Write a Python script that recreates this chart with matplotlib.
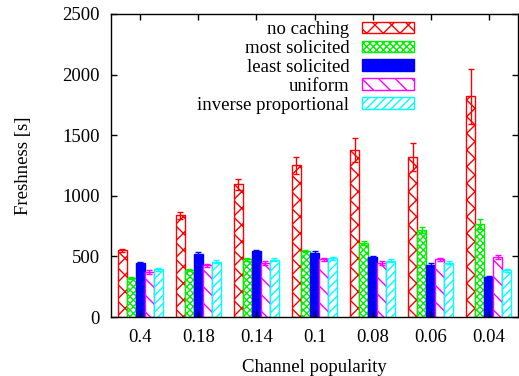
import matplotlib

matplotlib.use("Agg")

import matplotlib.pyplot as plt
import numpy as np

categories = ["0.4", "0.18", "0.14", "0.1", "0.08", "0.06", "0.04"]
series_names = ["no caching", "most solicited", "least solicited", "uniform", "inverse proportional"]

no_caching = [550, 840, 1095, 1252, 1381, 1322, 1820]
no_caching_err = [10, 28, 45, 70, 100, 115, 230]
most_solicited = [322, 391, 476, 545, 611, 715, 770]
most_solicited_err = [6, 8, 10, 10, 20, 25, 40]
least_solicited = [446, 523, 542, 531, 495, 432, 330]
least_solicited_err = [10, 10, 12, 10, 10, 10, 10]
uniform = [371, 427, 446, 476, 446, 476, 497]
uniform_err = [14, 14, 14, 14, 14, 14, 18]
inverse_prop = [394, 457, 473, 486, 465, 449, 385]
inverse_prop_err = [12, 12, 12, 12, 12, 12, 12]

values = [no_caching, most_solicited, least_solicited, uniform, inverse_prop]
errors = [no_caching_err, most_solicited_err, least_solicited_err, uniform_err, inverse_prop_err]
colors = ["#ff0000", "#00ee00", "#0000ff", "#ff00ff", "#00ffff"]
hatches = ["xx", "xxxxx", None, "\\\\", "////"]

plt.rcParams["font.family"] = ["Liberation Serif", "DejaVu Serif"]
plt.rcParams["hatch.linewidth"] = 1.0
fs = 13.5

fig = plt.figure(figsize=(5.19, 3.76), dpi=100)
ax = fig.add_axes([111 / 519, 1 - 317 / 376, 407 / 519, 303 / 376])

x = np.arange(len(categories))
width = 0.155
for i, (name, vals, errs, col, h) in enumerate(zip(series_names, values, errors, colors, hatches)):
    pos = x + (i - 2) * width
    if h is None:
        ax.bar(pos, vals, width, color=col, edgecolor=col, linewidth=1, label=name)
    else:
        ax.bar(pos, vals, width, facecolor="white", edgecolor=col, hatch=h, linewidth=1, label=name)
    ax.errorbar(pos, vals, yerr=errs, fmt="none", ecolor=col, elinewidth=1, capsize=2, capthick=1)

ax.set_xlim(-0.5, len(categories) - 0.5)
ax.set_ylim(0, 2500)
ax.set_xticks(x)
ax.set_xticklabels(categories)
ax.set_yticks(np.arange(0, 2501, 500))
ax.tick_params(direction="in", top=True, right=True, length=4, width=1, labelsize=fs)
ax.tick_params(axis="x", pad=9)
ax.tick_params(axis="y", pad=8)
ax.set_xlabel("Channel popularity", fontsize=fs, labelpad=9)
ax.set_ylabel("Freshness [s]", fontsize=fs, labelpad=22)
for sp in ax.spines.values():
    sp.set_linewidth(1)

ax.legend(loc="upper right", bbox_to_anchor=(414 / 519, 1 - 21 / 376), bbox_transform=fig.transFigure,
          frameon=False, markerfirst=False, fontsize=fs, handlelength=2.8, handleheight=0.55,
          handletextpad=0.65, labelspacing=0.1, borderpad=0, borderaxespad=0)

fig.savefig("out.png", dpi=100)
